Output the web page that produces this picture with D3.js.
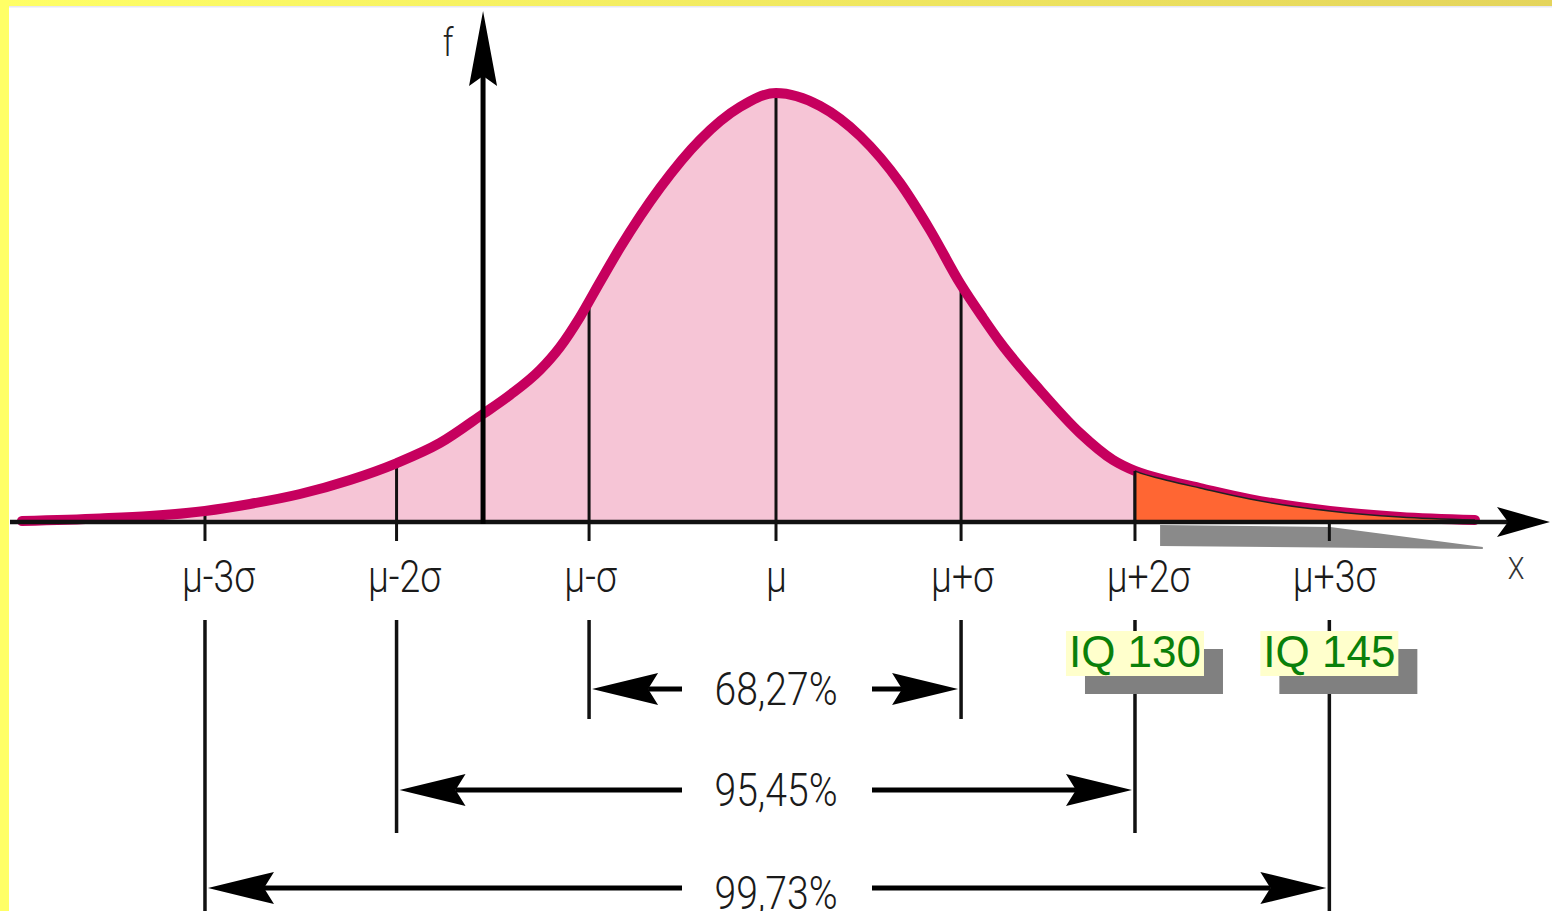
<!DOCTYPE html>
<html><head><meta charset="utf-8">
<script src="https://cdn.jsdelivr.net/npm/d3@7"></script>
<style>html,body{margin:0;padding:0;background:#fff;overflow:hidden}</style>
</head><body><svg id="c" width="1552" height="911"></svg>
<script>
// ---- data ----
const sigmaTicks = [-3, -2, -1, 0, 1, 2, 3];
const tickLabels = ["μ-3σ", "μ-2σ", "μ-σ", "μ", "μ+σ", "μ+2σ", "μ+3σ"];
const markerS = [-3.07, -2.04, -1.005, 0, 0.995, 1.93, 2.975];
const curveS = [-4.054,-3.634,-3.366,-3.070,-2.828,-2.559,-2.290,-2.038,-1.806,-1.575,-1.430,-1.269,-1.161,-1.054,-0.946,-0.839,-0.624,-0.409,-0.194,0,0.237,0.452,0.667,0.828,0.995,1.113,1.204,1.419,1.634,1.812,1.930,2.118,2.280,2.548,2.978,3.355,3.758];
const curveF = [0.0009,0.0033,0.0056,0.0103,0.0168,0.0261,0.0392,0.0550,0.0737,0.1007,0.1184,0.1417,0.1632,0.1911,0.2238,0.2555,0.3114,0.3562,0.3869,0.4000,0.3879,0.3599,0.3161,0.2723,0.2210,0.1902,0.1678,0.1231,0.0830,0.0578,0.0476,0.0382,0.0317,0.0214,0.0103,0.0047,0.0019];
const tailStart = 1.93;
const shadowS = [2.065, 2.98, 3.80, 3.80, 2.065];
const shadowF = [-0.0028, -0.0047, -0.0233, -0.0252, -0.0224];
const percentLabels = ["68,27%", "95,45%", "99,73%"];
const percentSpan = [1, 2, 3];
const iqLabels = ["IQ 130", "IQ 145"];
const iqAt = [2, 3];
const fAxisS = -1.575;

// ---- drawing ----
const svg = d3.select("#c");
const W = 1552, H = 911;
const x = d3.scaleLinear().domain([-1, 1]).range([590, 962]);
const y = d3.scaleLinear().domain([0, 0.4]).range([522, 93]);
const thin = "Roboto,'Open Sans','DejaVu Sans',sans-serif";
const SX = 0.85;

const defs = svg.append("defs");
const grad = defs.append("linearGradient").attr("id", "topg");
grad.append("stop").attr("offset", "0%").attr("stop-color", "#FFFF66");
grad.append("stop").attr("offset", "100%").attr("stop-color", "#E4D45C");
defs.append("clipPath").attr("id", "clipL").append("rect")
  .attr("x", 0).attr("y", 0).attr("width", x(tailStart)).attr("height", H);
defs.append("clipPath").attr("id", "clipR").append("rect")
  .attr("x", x(tailStart)).attr("y", 0).attr("width", W - x(tailStart)).attr("height", H);

const pts = curveS.map((s, i) => [s, curveF[i]]);
const line = d3.line().x(d => x(d[0])).y(d => y(d[1])).curve(d3.curveMonotoneX);
const area = d3.area().x(d => x(d[0])).y0(y(0)).y1(d => y(d[1])).curve(d3.curveMonotoneX);

svg.append("path").attr("d", area(pts)).attr("fill", "#F6C5D6").attr("clip-path", "url(#clipL)");

const probe = svg.append("path").attr("d", line(pts)).attr("fill", "none").attr("stroke", "none");
const pnode = probe.node(), plen = pnode.getTotalLength();
function curveYAt(px) {
  let lo = 0, hi = plen;
  for (let k = 0; k < 40; k++) {
    const mid = (lo + hi) / 2;
    if (pnode.getPointAtLength(mid).x < px) lo = mid; else hi = mid;
  }
  return pnode.getPointAtLength((lo + hi) / 2).y;
}

svg.append("g").selectAll("line").data(markerS).join("line")
  .attr("x1", d => x(d)).attr("x2", d => x(d))
  .attr("y1", y(0)).attr("y2", d => curveYAt(x(d)))
  .attr("stroke", "#111").attr("stroke-width", 3);

svg.append("path").attr("d", line(pts)).attr("fill", "none")
  .attr("stroke", "#C6005E").attr("stroke-width", 10).attr("stroke-linecap", "round");

svg.append("path").attr("d", area(pts)).attr("fill", "#FF6633").attr("clip-path", "url(#clipR)");
svg.append("path").attr("d", line(pts)).attr("fill", "none").attr("stroke", "#222")
  .attr("stroke-width", 1.5).attr("clip-path", "url(#clipR)");
svg.append("line").attr("x1", x(tailStart)).attr("x2", x(tailStart))
  .attr("y1", y(0)).attr("y2", curveYAt(x(tailStart)))
  .attr("stroke", "#111").attr("stroke-width", 3);

svg.append("path")
  .attr("d", d3.line()(shadowS.map((s, i) => [x(s), y(shadowF[i])])) + "Z")
  .attr("fill", "#8A8A8A");

// x axis
svg.append("line").attr("x1", 10).attr("x2", 1508).attr("y1", y(0)).attr("y2", y(0))
  .attr("stroke", "#111").attr("stroke-width", 4.5);
svg.append("path").attr("d", `M1550,${y(0)} L1497,${y(0) - 15} L1508,${y(0)} L1497,${y(0) + 15} Z`)
  .attr("fill", "#000");
svg.append("g").selectAll("line").data(markerS).join("line")
  .attr("x1", d => x(d)).attr("x2", d => x(d)).attr("y1", y(0)).attr("y2", y(0) + 19)
  .attr("stroke", "#111").attr("stroke-width", 3);

// f axis
const fx = x(fAxisS);
svg.append("line").attr("x1", fx).attr("x2", fx).attr("y1", y(0) + 2).attr("y2", 76)
  .attr("stroke", "#000").attr("stroke-width", 5);
svg.append("path").attr("d", `M${fx},11 L${fx + 14},86 L${fx},76 L${fx - 14},86 Z`).attr("fill", "#000");
svg.append("text").attr("transform", `translate(${fx - 35},56) scale(${SX},1)`).attr("text-anchor", "middle")
  .attr("font-family", thin).attr("font-weight", 300).attr("font-size", 38).attr("fill", "#222").text("f");

// tick labels via axis
const ax = svg.append("g").attr("transform", `translate(0,${y(0)})`)
  .call(d3.axisBottom(x).tickValues(sigmaTicks).tickFormat((d, i) => tickLabels[i]).tickSize(0).tickPadding(39));
ax.select(".domain").remove();
ax.selectAll("text").attr("font-family", thin).attr("font-weight", 300).attr("font-size", 44)
  .attr("fill", "#1a1a1a").attr("transform", `scale(${SX},1)`);
svg.append("text").attr("transform", `translate(1516,579) scale(${SX},1)`).attr("text-anchor", "middle")
  .attr("font-family", thin).attr("font-weight", 300).attr("font-size", 32).attr("fill", "#333").text("X");

// bottom dimension lines
const rowY = [689, 790, 888];
const rowText = [705, 806, 909];
const extBottom = [719, 833, 913];
const gapL = x(0) - 94, gapR = x(0) + 96;
percentSpan.forEach((k, r) => {
  const li = 3 - k, ri = 3 + k;
  const xl = x(markerS[li]), xr = x(markerS[ri]);
  [xl, xr].forEach(xx => {
    svg.append("line").attr("x1", xx).attr("x2", xx).attr("y1", 620).attr("y2", extBottom[r])
      .attr("stroke", "#111").attr("stroke-width", 3.5);
  });
  const yy = rowY[r], L = 66, Hh = 16, N = 56;
  const tl = xl + 3, tr = xr - 3;
  svg.append("line").attr("x1", tl + N).attr("x2", gapL).attr("y1", yy).attr("y2", yy)
    .attr("stroke", "#000").attr("stroke-width", 5);
  svg.append("line").attr("x1", gapR).attr("x2", tr - N).attr("y1", yy).attr("y2", yy)
    .attr("stroke", "#000").attr("stroke-width", 5);
  svg.append("path").attr("d", `M${tl},${yy} L${tl + L},${yy - Hh} L${tl + N},${yy} L${tl + L},${yy + Hh} Z`).attr("fill", "#000");
  svg.append("path").attr("d", `M${tr},${yy} L${tr - L},${yy - Hh} L${tr - N},${yy} L${tr - L},${yy + Hh} Z`).attr("fill", "#000");
  svg.append("text").attr("transform", `translate(${x(0)},${rowText[r]}) scale(${SX},1)`).attr("text-anchor", "middle")
    .attr("font-family", thin).attr("font-weight", 300).attr("font-size", 46).attr("fill", "#1a1a1a").text(percentLabels[r]);
});

// IQ labels
iqAt.forEach((k, i) => {
  const cx = x(markerS[3 + k]);
  const bw = 138, bh = 45, by = 631;
  svg.append("rect").attr("x", cx - bw / 2 + 19).attr("y", by + 18).attr("width", bw).attr("height", bh).attr("fill", "#808080");
  svg.append("rect").attr("x", cx - bw / 2).attr("y", by).attr("width", bw).attr("height", bh).attr("fill", "#FFFFCC");
  svg.append("text").attr("x", cx).attr("y", by + 36).attr("text-anchor", "middle")
    .attr("font-family", "'Liberation Sans',Arial,sans-serif").attr("font-size", 44)
    .attr("fill", "#0A800A").text(iqLabels[i]);
});

// yellow frame
svg.append("rect").attr("x", 0).attr("y", 0).attr("width", W).attr("height", 6).attr("fill", "url(#topg)");
svg.append("rect").attr("x", 0).attr("y", 6).attr("width", W).attr("height", 1.5).attr("fill", "#E8E8F2");
svg.append("rect").attr("x", 0).attr("y", 0).attr("width", 9).attr("height", H).attr("fill", "#FFFF66");
</script></body></html>
